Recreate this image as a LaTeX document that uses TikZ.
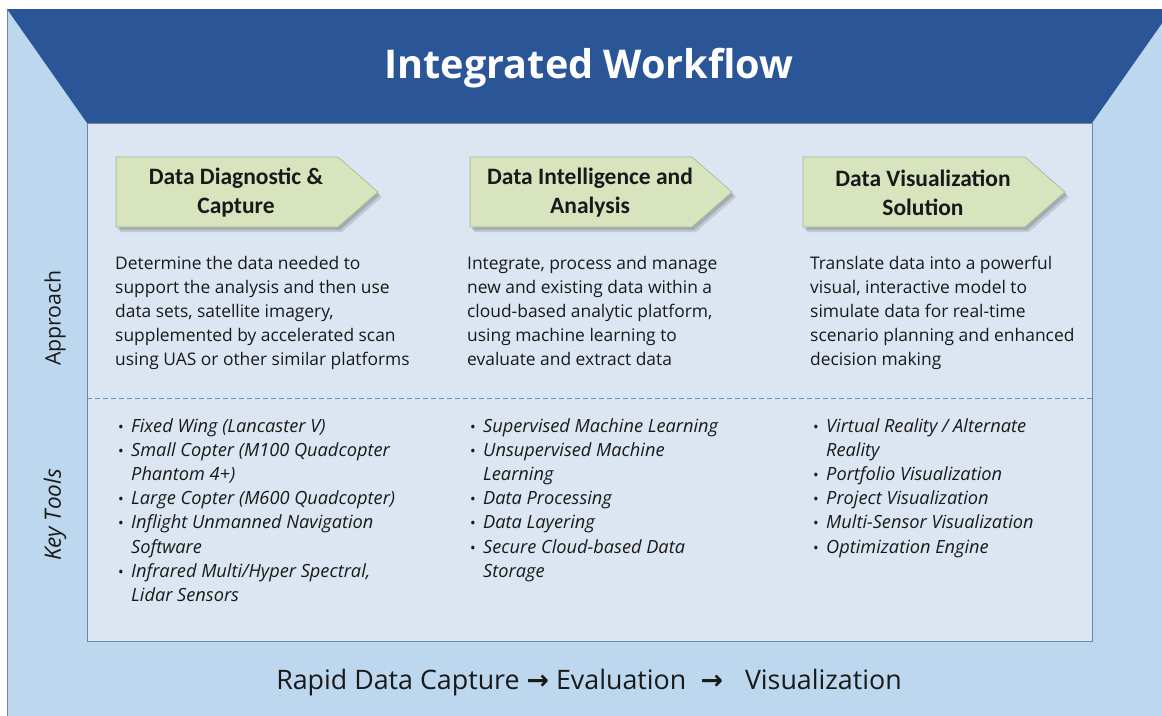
\documentclass[tikz,border=0pt]{standalone}
\usepackage{fontspec}
\setmainfont{Open Sans}
\newfontfamily\stepfont{Carlito}
\newfontfamily\symfont{DejaVu Sans}
\usetikzlibrary{calc}

\definecolor{hdrblue}{RGB}{42,85,151}
\definecolor{frameblue}{RGB}{189,215,238}
\definecolor{panelblue}{RGB}{220,230,242}
\definecolor{panelline}{RGB}{110,135,165}
\definecolor{stepgreen}{RGB}{215,228,189}
\definecolor{stepline}{RGB}{165,180,145}
\definecolor{ink}{RGB}{25,25,25}
\definecolor{dashblue}{RGB}{105,150,192}

\tikzset{
  bodytext/.style={anchor=base west, inner sep=0pt, text=ink,
    font=\fontsize{17.4}{24}\selectfont},
  tooltext/.style={anchor=base west, inner sep=0pt, text=ink,
    font=\fontsize{18.2}{24.2}\selectfont},
  sidelabel/.style={rotate=90, inner sep=0pt, text=ink,
    font=\fontsize{21.3}{24}\selectfont},
  steplabel/.style={align=center, inner sep=0pt, text=ink,
    font=\stepfont\bfseries\fontsize{23.5}{29}\selectfont},
  stepfill/.style={fill=stepgreen, draw=stepline, line width=0.6pt},
}
\newcommand{\bul}{\makebox[13pt][l]{\upshape\fontsize{15}{18}\selectfont\textbullet}}
\newcommand{\flowarrow}{{\symfont\bfseries\char"2192}}

\begin{document}
\begin{tikzpicture}[x=1pt,y=-1pt]
\useasboundingbox (0,0) rectangle (1162,715);

% frame, header band and inner panel
\begin{scope}
  \clip (0,0) rectangle (1162,715);
  \fill[white] (0,0) rectangle (1162,715);
  \filldraw[fill=frameblue, draw=panelline, line width=0.6pt] (7,9) rectangle (1190,740);
  \fill[hdrblue] (7,9) -- (1172,9) -- (1092,123) -- (87,123) -- cycle;
  \filldraw[fill=panelblue, draw=panelline, line width=0.7pt] (87,123) rectangle (1092,641);
\end{scope}

\node[text=white, font=\bfseries\fontsize{39.6}{46}\selectfont] (title) at (589,68) {Integrated Workflow};

% step arrows
\foreach \L/\nm/\txt in {116/capture/{Data Diagnostic \&\\Capture},
                         470/analysis/{Data Intelligence and\\Analysis},
                         803/visual/{Data Visualization\\Solution}} {
  \fill[black, opacity=0.12] ($(\L,157)+(4,5)$) -- ++(222,0) -- ++(40,35) -- ++(-40,35) -- ++(-222,0) -- cycle;
  \fill[black, opacity=0.15] ($(\L,157)+(2,3)$) -- ++(222,0) -- ++(40,35) -- ++(-40,35) -- ++(-222,0) -- cycle;
  \path[stepfill] (\L,157) -- ++(222,0) -- ++(40,35) -- ++(-40,35) -- ++(-222,0) -- cycle;
  \node[steplabel] (step-\nm) at ($(\L,193)+(120,0)$) {\txt};
}

% side labels
\node[sidelabel] (approach) at (55,318) {Approach};
\node[sidelabel, font=\itshape\fontsize{22.5}{24}\selectfont] (keytools) at (55,515) {Key Tools};

% approach paragraphs
\node[bodytext] (appr-capture) at (115,269) {\begin{tabular}[t]{@{}l@{}}
Determine the data needed to\\
support the analysis and then use\\
data sets, satellite imagery,\\
supplemented by accelerated scan\\
using UAS or other similar platforms\end{tabular}};

\node[bodytext] (appr-analysis) at (467,269) {\begin{tabular}[t]{@{}l@{}}
Integrate, process and manage\\
new and existing data within a\\
cloud-based analytic platform,\\
using machine learning to\\
evaluate and extract data\end{tabular}};

\node[bodytext] (appr-visual) at (810,269) {\begin{tabular}[t]{@{}l@{}}
Translate data into a powerful\\
visual, interactive model to\\
simulate data for real-time\\
scenario planning and enhanced\\
decision making\end{tabular}};

% divider between approach and tools
\coordinate (divL) at (87,398);
\coordinate (divR) at (1092,398);
\draw[dashblue, line width=0.7pt, dash pattern=on 5pt off 3pt] (divL) -- (divR);

% key tools lists
\node[tooltext] (tools-capture) at (118,432) {\itshape\begin{tabular}[t]{@{}l@{}l@{}}
\bul & Fixed Wing (Lancaster V)\\
\bul & Small Copter (M100 Quadcopter\\
     & Phantom 4+)\\
\bul & Large Copter (M600 Quadcopter)\\
\bul & Inflight Unmanned Navigation\\
     & Software\\
\bul & Infrared Multi/Hyper Spectral,\\
     & Lidar Sensors\end{tabular}};

\node[tooltext] (tools-analysis) at (470,432) {\itshape\begin{tabular}[t]{@{}l@{}l@{}}
\bul & Supervised Machine Learning\\
\bul & Unsupervised Machine\\
     & Learning\\
\bul & Data Processing\\
\bul & Data Layering\\
\bul & Secure Cloud-based Data\\
     & Storage\end{tabular}};

\node[tooltext] (tools-visual) at (813,432) {\itshape\begin{tabular}[t]{@{}l@{}l@{}}
\bul & Virtual Reality / Alternate\\
     & Reality\\
\bul & Portfolio Visualization\\
\bul & Project Visualization\\
\bul & Multi-Sensor Visualization\\
\bul & Optimization Engine\end{tabular}};

% flow summary
\node[text=ink, font=\fontsize{26.8}{32}\selectfont] (flow) at (589,683)
  {Rapid Data Capture \flowarrow\ Evaluation\; \flowarrow\;\; Visualization};
\end{tikzpicture}
\end{document}
